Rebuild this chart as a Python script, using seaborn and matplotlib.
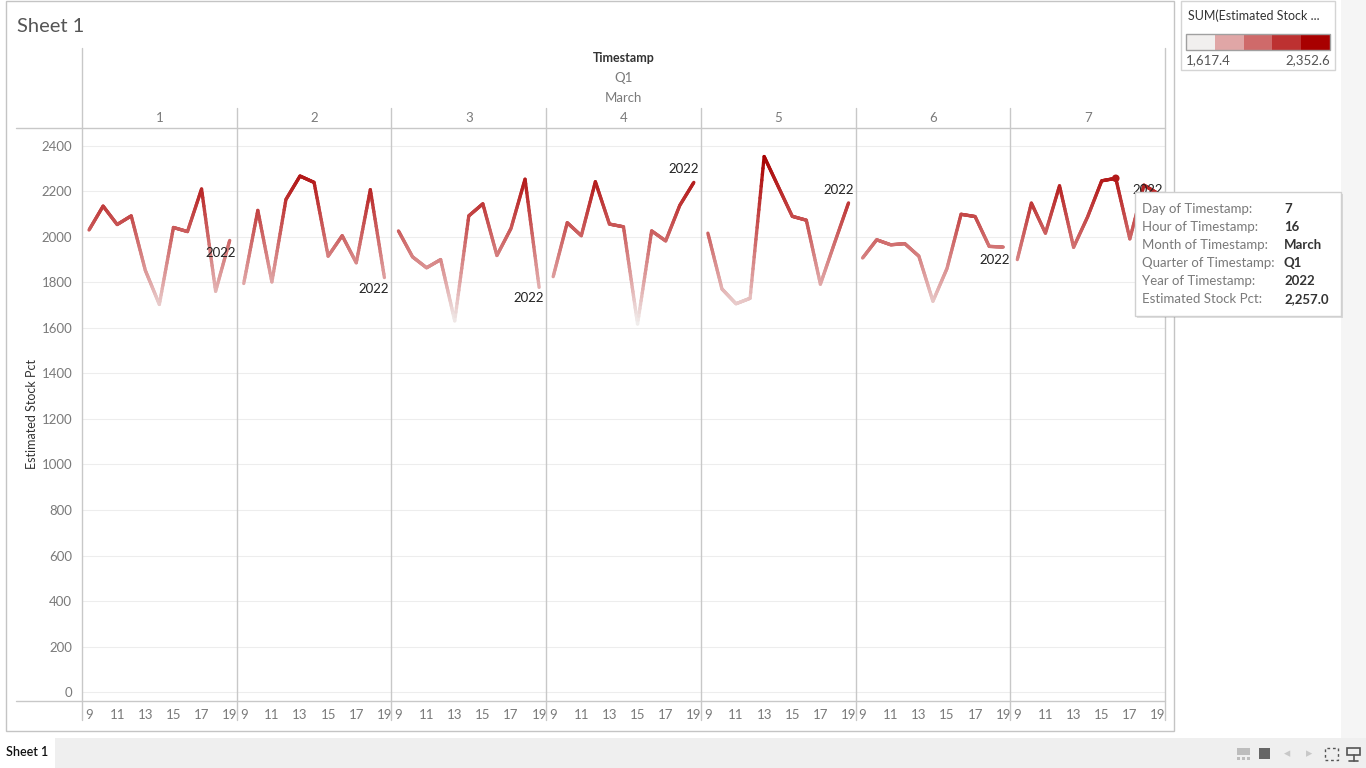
import numpy as np
import pandas as pd
import matplotlib
matplotlib.use("Agg")
import matplotlib.pyplot as plt
import seaborn as sns
from matplotlib.collections import LineCollection
from matplotlib.colors import LinearSegmentedColormap, Normalize
from matplotlib.patches import Rectangle
from matplotlib.lines import Line2D

# ---- data ----
hours = list(range(9, 20))
day_labels = ["1", "2", "3", "4", "5", "6", "7"]
day1 = [2030, 2135, 2054, 2092, 1853, 1703, 2041, 2023, 2210, 1761, 1984]
day2 = [1795, 2116, 1802, 2164, 2267, 2239, 1915, 2005, 1886, 2207, 1821]
day3 = [2026, 1912, 1864, 1900, 1631, 2092, 2145, 1918, 2037, 2253, 1778]
day4 = [1825, 2062, 2005, 2242, 2056, 2044, 1617.4, 2026, 1982, 2138, 2239]
day5 = [2016, 1771, 1706, 1730, 2352.6, 2221, 2090, 2073, 1792, 1972, 2149]
day6 = [1907, 1987, 1965, 1970, 1915, 1717, 1861, 2099, 2089, 1958, 1955]
day7 = [1900, 2148, 2016, 2224, 1954, 2088, 2246, 2257, 1991, 2227, 2190]
days = [day1, day2, day3, day4, day5, day6, day7]
year_label = "2022"
# label offsets (pixels) of the "2022" mark label relative to the last point
label_dx = [-9, -11, -10, -10, -10, -9, -10]
label_dy = [-13, -11, -11, 13, 13, -13, 4]

legend_title = "SUM(Estimated Stock ..."
legend_colors = ["#f1efee", "#e0a6a6", "#cf6a6a", "#bd3131", "#a80000"]
vmin, vmax = 1617.4, 2352.6

tooltip_keys = ["Day of Timestamp:", "Hour of Timestamp:", "Month of Timestamp:",
                "Quarter of Timestamp:", "Year of Timestamp:", "Estimated Stock Pct:"]
tooltip_vals = ["7", "16", "March", "Q1", "2022", "2,257.0"]
highlight_day, highlight_hour = 7, 16

df = pd.DataFrame({
    "day": np.repeat(day_labels, len(hours)),
    "hour": hours * len(days),
    "value": np.concatenate(days),
})

# ---- style ----
sns.set_theme(style="white")
plt.rcParams["font.family"] = ["Lato", "DejaVu Sans"]

W, H = 1366, 768
fig = plt.figure(figsize=(W / 100, H / 100), dpi=100)
fig.patch.set_facecolor("white")


def fx(x):
    return x / W


def fy(y):
    return 1 - y / H


def fline(x0, y0, x1, y1, color="#c8c8c8", lw=1.0):
    fig.add_artist(Line2D([fx(x0), fx(x1)], [fy(y0), fy(y1)], color=color, lw=lw,
                          transform=fig.transFigure))


def frect(x0, y0, x1, y1, **kw):
    r = Rectangle((fx(x0), fy(y1)), (x1 - x0) / W, (y1 - y0) / H,
                  transform=fig.transFigure, **kw)
    fig.add_artist(r)
    return r


cmap = LinearSegmentedColormap.from_list("tab_red", legend_colors)
norm = Normalize(vmin=vmin, vmax=vmax)

# background decorations
frect(1341, 0, 1366, 738, facecolor="#f5f5f5", edgecolor="none", zorder=0)
frect(6, 0.5, 1174, 731, facecolor="none", edgecolor="#c4c4c4", lw=1.0, zorder=0)

top_px, bot_px = 128, 701
edges = np.linspace(82, 1165, len(days) + 1)

for i, lab in enumerate(day_labels):
    sub = df[df["day"] == lab]
    ax = fig.add_axes([fx(edges[i]), fy(bot_px), (edges[i + 1] - edges[i]) / W,
                       (bot_px - top_px) / H])
    ax.set_facecolor("none")
    ax.set_xlim(8.5, 19.5)
    ax.set_ylim(-39, 2478)
    ax.set_yticks(range(0, 2401, 200))
    ax.set_xticks(range(9, 20, 2))
    ax.set_xticks(hours, minor=True)
    ax.grid(axis="y", color="#ededed", lw=0.8)
    for s in ax.spines.values():
        s.set_visible(False)
    ax.tick_params(axis="x", which="both", length=3, color="#e6e6e6", pad=3,
                   labelsize=9.5, labelcolor="#7a7a7a")
    ax.tick_params(axis="y", length=0, pad=7, labelsize=9.5, labelcolor="#7a7a7a")
    if i > 0:
        ax.tick_params(axis="y", labelleft=False)
    ax.set_xlabel("")
    ax.set_ylabel("")

    # gradient line: split each segment into small pieces coloured by value
    xs = sub["hour"].to_numpy(dtype=float)
    ys = sub["value"].to_numpy(dtype=float)
    segs, cols = [], []
    for k in range(len(xs) - 1):
        t = np.linspace(0, 1, 25)
        px = xs[k] + (xs[k + 1] - xs[k]) * t
        py = ys[k] + (ys[k + 1] - ys[k]) * t
        for j in range(len(t) - 1):
            segs.append([(px[j], py[j]), (px[j + 1], py[j + 1])])
            cols.append(cmap(norm((py[j] + py[j + 1]) / 2)))
    lc = LineCollection(segs, colors=cols, linewidths=2.4, capstyle="round",
                        joinstyle="round", zorder=3)
    ax.add_collection(lc)

    if int(lab) == highlight_day:
        hl = sub[sub["hour"] == highlight_hour]
        sns.scatterplot(data=hl, x="hour", y="value", ax=ax, s=30,
                        color=cmap(norm(hl["value"].iloc[0])), edgecolor="none",
                        zorder=4, legend=False)
        ax.set_xlabel("")
        ax.set_ylabel("")

    ax.annotate(year_label, (xs[-1], ys[-1]), xytext=(label_dx[i], label_dy[i]),
                textcoords="offset pixels", ha="center", va="center",
                fontsize=9.5, color="#222222", zorder=5)

    # panel header
    fig.text(fx((edges[i] + edges[i + 1]) / 2), fy(118), lab, ha="center", va="center",
             fontsize=9.5, color="#7a7a7a")

# grid frame lines
fline(16, top_px, 1165, top_px)
fline(16, bot_px, 1165, bot_px)
fline(82, 48, 82, 720)
fline(1165, 48, 1165, 720)
for e in edges[1:-1]:
    fline(e, 108, e, 720)

# header texts
fig.text(fx(17), fy(26), "Sheet 1", ha="left", va="center", fontsize=14.5,
         color="#555555", fontweight="normal")
fig.text(fx(623.5), fy(58), "Timestamp", ha="center", va="center", fontsize=9,
         color="#333333", fontweight="bold")
fig.text(fx(623.5), fy(78), "Q1", ha="center", va="center", fontsize=9.5, color="#7a7a7a")
fig.text(fx(623.5), fy(98), "March", ha="center", va="center", fontsize=9.5, color="#7a7a7a")
fig.text(fx(32), fy(414), "Estimated Stock Pct", ha="center", va="center", rotation=90,
         fontsize=9, color="#333333")

# colour legend
frect(1181, 1, 1335, 70, facecolor="white", edgecolor="#d4d4d4", lw=1.0, zorder=1)
fig.text(fx(1188), fy(16), legend_title, ha="left", va="center", fontsize=9, color="#333333")
bw = (1330 - 1186) / len(legend_colors)
for k, c in enumerate(legend_colors):
    frect(1186 + k * bw, 34, 1186 + (k + 1) * bw, 50, facecolor=c, edgecolor="none", zorder=2)
frect(1186, 34, 1330, 50, facecolor="none", edgecolor="#a0a0a0", lw=1.0, zorder=3)
fig.text(fx(1186), fy(60), f"{vmin:,.1f}", ha="left", va="center", fontsize=9.5, color="#555555")
fig.text(fx(1330), fy(60), f"{vmax:,.1f}", ha="right", va="center", fontsize=9.5, color="#555555")

# tooltip
frect(1137, 194, 1343, 318, facecolor="#000000", alpha=0.12, edgecolor="none", zorder=6)
frect(1135, 192, 1341, 316, facecolor="white", edgecolor="#d0d0d0", lw=1.0, zorder=7)
for k, (key, val) in enumerate(zip(tooltip_keys, tooltip_vals)):
    yy = fy(209 + k * 18)
    fig.text(fx(1142), yy, key, ha="left", va="center", fontsize=9.5, color="#7a7a7a", zorder=8)
    fig.text(fx(1284), yy, val, ha="left", va="center", fontsize=9.5, color="#333333",
             fontweight="bold", zorder=8)

# bottom sheet bar
frect(0, 738, 1366, 768, facecolor="#efefef", edgecolor="none", zorder=1)
frect(0, 738, 55, 768, facecolor="white", edgecolor="none", zorder=2)
fig.text(fx(27), fy(752), "Sheet 1", ha="center", va="center", fontsize=9, color="#111111",
         fontweight="semibold", zorder=3)
frect(1237, 748, 1250, 755, facecolor="#bdbdbd", edgecolor="none", zorder=3)
for k in range(3):
    frect(1237 + k * 5, 757, 1240 + k * 5, 760, facecolor="#bdbdbd", edgecolor="none", zorder=3)
frect(1259, 748, 1270, 759, facecolor="#666666", edgecolor="none", zorder=3)
fig.text(fx(1287), fy(754), "\u25c2", ha="center", va="center", fontsize=9, color="#c8c8c8",
         family="DejaVu Sans", zorder=3)
fig.text(fx(1309), fy(754), "\u25b8", ha="center", va="center", fontsize=9, color="#c8c8c8",
         family="DejaVu Sans", zorder=3)
frect(1325, 748, 1338, 760, facecolor="none", edgecolor="#555555", lw=1.0, ls=(0, (2, 2)), zorder=3)
frect(1347, 748, 1360, 755, facecolor="none", edgecolor="#555555", lw=1.2, zorder=3)
fline(1353.5, 755, 1353.5, 761, color="#555555", lw=1.2)
fline(1349, 761, 1358, 761, color="#555555", lw=1.2)

fig.savefig("out.png", dpi=100)
